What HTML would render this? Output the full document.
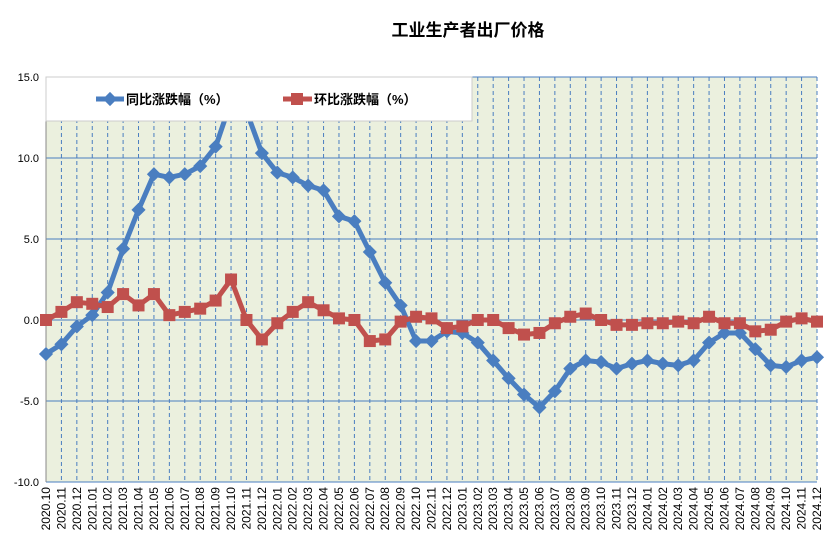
<!DOCTYPE html>
<html><head><meta charset="utf-8"><style>
html,body{margin:0;padding:0;background:#fff;}
svg{display:block;font-family:"Liberation Sans","Noto Sans CJK SC",sans-serif;}
</style></head><body>
<svg id="c" width="829" height="550" xmlns="http://www.w3.org/2000/svg"></svg>
<script>
const s=document.getElementById('c');
const yoy=[-2.1,-1.5,-0.4,0.3,1.7,4.4,6.8,9.0,8.8,9.0,9.5,10.7,13.5,12.9,10.3,9.1,8.8,8.3,8.0,6.4,6.1,4.2,2.3,0.9,-1.3,-1.3,-0.7,-0.8,-1.4,-2.5,-3.6,-4.6,-5.4,-4.4,-3.0,-2.5,-2.6,-3.0,-2.7,-2.5,-2.7,-2.8,-2.5,-1.4,-0.8,-0.8,-1.8,-2.8,-2.9,-2.5,-2.3];
const mom=[0.0,0.5,1.1,1.0,0.8,1.6,0.9,1.6,0.3,0.5,0.7,1.2,2.5,0.0,-1.2,-0.2,0.5,1.1,0.6,0.1,0.0,-1.3,-1.2,-0.1,0.2,0.1,-0.5,-0.4,0.0,0.0,-0.5,-0.9,-0.8,-0.2,0.2,0.4,0.0,-0.3,-0.3,-0.2,-0.2,-0.1,-0.2,0.2,-0.2,-0.2,-0.7,-0.6,-0.1,0.1,-0.1];
const X0=46,X1=817,Y0=77,Y1=482;
const X=i=>X0+i*(X1-X0)/50, Y=v=>Y0+(15-v)*(Y1-Y0)/25;
let h='';
h+=`<text x="468" y="36" font-size="17" font-weight="bold" text-anchor="middle">工业生产者出厂价格</text>`;
h+=`<rect x="${X0}" y="${Y0}" width="${X1-X0}" height="${Y1-Y0}" fill="#ebf0de"/>`;
for(let i=1;i<=50;i++)h+=`<line x1="${X(i)}" y1="${Y0}" x2="${X(i)}" y2="${Y1}" stroke="#4a7ec0" stroke-width="1" stroke-dasharray="4,3"/>`;
for(let v=-10;v<=15;v+=5){h+=`<line x1="${X0}" y1="${Y(v)}" x2="${X1}" y2="${Y(v)}" stroke="#4a7ec0" stroke-width="1"/>`;
h+=`<text x="39" y="${Y(v)+4}" font-size="11" text-anchor="end">${v.toFixed(1)}</text>`;}
h+=`<line x1="${X0}" y1="${Y0}" x2="${X0}" y2="${Y1}" stroke="#888"/>`;
const mon=[];let yr=2020,m=10;for(let i=0;i<51;i++){mon.push(yr+'.'+String(m).padStart(2,'0'));m++;if(m>12){m=1;yr++;}}
mon.forEach((t,i)=>{h+=`<text transform="translate(${X(i)+4},487) rotate(-90)" font-size="12" text-anchor="end">${t}</text>`;});
h+=`<defs><clipPath id="cp"><rect x="0" y="${Y0}" width="829" height="${Y1-Y0}"/></clipPath></defs><g clip-path="url(#cp)">`;
h+=`<polyline fill="none" stroke="#4a7ec0" stroke-width="5" stroke-linejoin="round" points="${yoy.map((v,i)=>X(i)+','+Y(v)).join(' ')}"/>`;
yoy.forEach((v,i)=>{h+=`<rect x="${X(i)-5}" y="${Y(v)-5}" width="10" height="10" fill="#4a7ec0" transform="rotate(45 ${X(i)} ${Y(v)})"/>`;});
h+=`<polyline fill="none" stroke="#c0504d" stroke-width="5" stroke-linejoin="round" points="${mom.map((v,i)=>X(i)+','+Y(v)).join(' ')}"/>`;
mom.forEach((v,i)=>{h+=`<rect x="${X(i)-6}" y="${Y(v)-6}" width="12" height="12" fill="#c0504d"/>`;});
h+=`</g>`;
h+=`<rect x="${X0}" y="${Y0}" width="426" height="44" fill="#fff" stroke="#ccc"/>`;
h+=`<line x1="96" y1="99" x2="124" y2="99" stroke="#4a7ec0" stroke-width="5"/><rect x="105" y="94" width="10" height="10" fill="#4a7ec0" transform="rotate(45 110 99)"/>`;
h+=`<text x="126" y="104" font-size="13" font-weight="bold">同比涨跌幅（%）</text>`;
h+=`<line x1="283" y1="99" x2="312" y2="99" stroke="#c0504d" stroke-width="5"/><rect x="291" y="93" width="12" height="12" fill="#c0504d"/>`;
h+=`<text x="314" y="104" font-size="13" font-weight="bold">环比涨跌幅（%）</text>`;
s.innerHTML=h;
</script>
</body></html>
